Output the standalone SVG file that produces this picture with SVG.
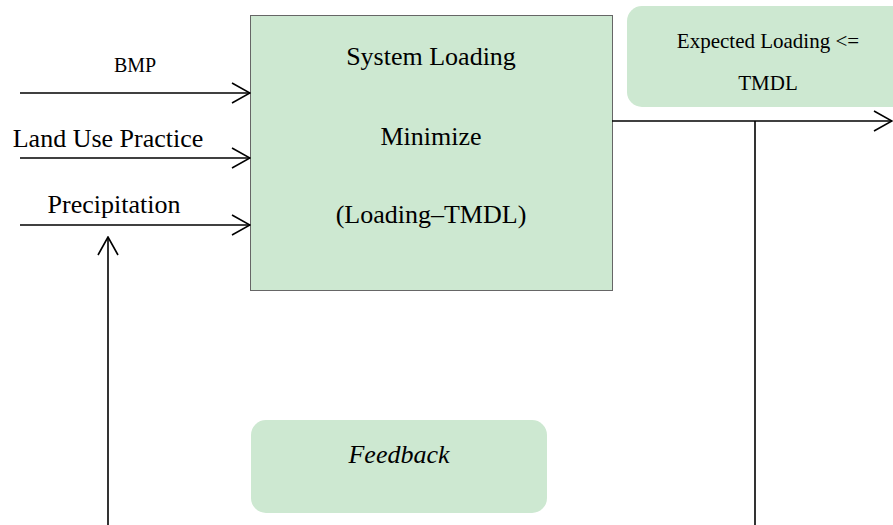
<svg xmlns="http://www.w3.org/2000/svg" width="893" height="525" viewBox="0 0 893 525">
<style>
.t{font-family:"Liberation Serif","Times New Roman",serif;fill:#000;text-anchor:middle}
.c{stroke:#000;stroke-width:1.6;fill:none}
.fill{fill:#cde8d1}
</style>
<defs>
<marker id="arr" viewBox="0 0 20 22" refX="19" refY="11" markerWidth="20" markerHeight="22" markerUnits="userSpaceOnUse" orient="auto">
<path d="M1,1 L19,11 L1,21" fill="none" stroke="#000" stroke-width="1.6"/>
</marker>
</defs>
<rect width="893" height="525" fill="#fff"/>
<g id="system">
<rect class="fill" x="250.5" y="15.5" width="362" height="275" stroke="#666" stroke-width="1"/>
<text class="t" x="431" y="65" font-size="26">System Loading</text>
<text class="t" x="431" y="145" font-size="26">Minimize</text>
<text class="t" x="431" y="223" font-size="26">(Loading–TMDL)</text>
</g>
<g id="expected">
<rect class="fill" x="627" y="6" width="290" height="101" rx="15"/>
<text class="t" x="768" y="48" font-size="21">Expected Loading &lt;=</text>
<text class="t" x="768" y="90" font-size="21">TMDL</text>
</g>
<g id="feedback">
<rect class="fill" x="251" y="420" width="296" height="93" rx="15"/>
<text class="t" x="399" y="463" font-size="26" font-style="italic">Feedback</text>
</g>
<g id="labels">
<text class="t" x="135" y="72" font-size="20">BMP</text>
<text class="t" x="108" y="147" font-size="26">Land Use Practice</text>
<text class="t" x="114" y="213" font-size="26">Precipitation</text>
</g>
<g id="connectors">
<line class="c" x1="20" y1="93" x2="250" y2="93" marker-end="url(#arr)"/>
<line class="c" x1="20" y1="158" x2="250" y2="158" marker-end="url(#arr)"/>
<line class="c" x1="20" y1="225" x2="250" y2="225" marker-end="url(#arr)"/>
<line class="c" x1="612" y1="121" x2="892" y2="121" marker-end="url(#arr)"/>
<line class="c" x1="755" y1="121" x2="755" y2="525"/>
<line class="c" x1="108" y1="525" x2="108" y2="237" marker-end="url(#arr)"/>
</g>
</svg>
